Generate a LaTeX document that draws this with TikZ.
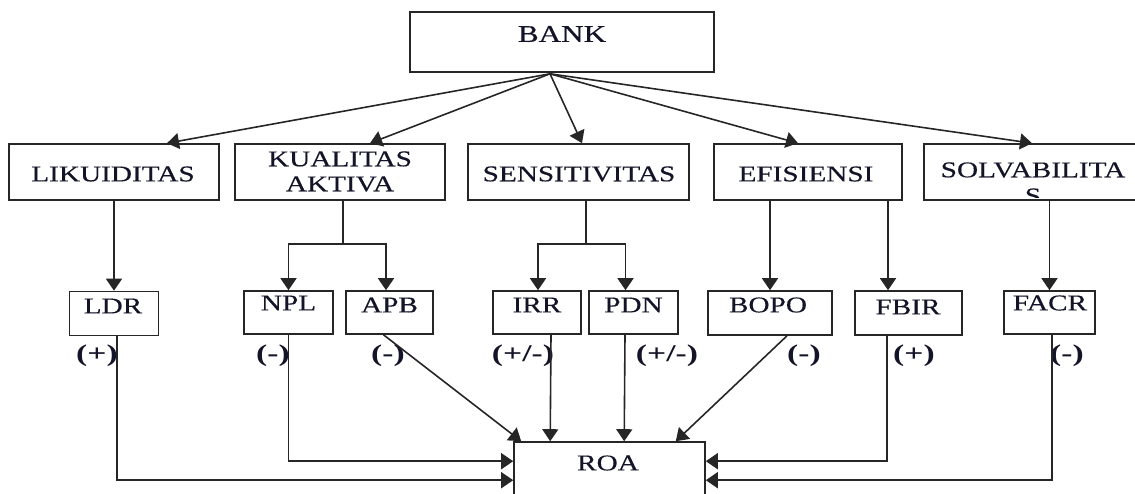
\documentclass[tikz,border=0pt]{standalone}
\usepackage{fontspec}
\setmainfont[FakeStretch=1.3,FakeBold=0.4]{Liberation Serif}
\newfontfamily\lblfont[FakeStretch=1.4]{Liberation Serif}
\usetikzlibrary{arrows.meta,calc}
\definecolor{linec}{RGB}{38,38,38}
\definecolor{txtc}{RGB}{20,20,40}
\tikzset{
  box/.style={draw=linec, line width=1.6pt, inner sep=0pt, fill=none},
  txt/.style={inner sep=0pt, text=txtc, align=center, font=\fontsize{22.5}{25}\selectfont},
  lbl/.style={inner sep=0pt, text=txtc, font=\lblfont\bfseries\fontsize{24}{26}\selectfont},
  conn/.style={draw=linec, line width=1.6pt},
  arr/.style={conn, -{Triangle[length=12pt,width=16pt]}}
}
\begin{document}
\begin{tikzpicture}[x=1pt,y=-1pt]
\useasboundingbox (0,0) rectangle (1135,493);
\clip (0,0) rectangle (1135,493);
% boxes
\node[box, minimum width=304pt, minimum height=60pt] (bank) at (562,42) {};
\node[box, minimum width=210pt, minimum height=56pt] (lik) at (114,172) {};
\node[box, minimum width=210pt, minimum height=56pt] (kua) at (340,172) {};
\node[box, minimum width=221pt, minimum height=56pt] (sen) at (578.5,172) {};
\node[box, minimum width=188pt, minimum height=56pt] (efi) at (808,172) {};
\node[box, minimum width=222pt, minimum height=56pt] (sol) at (1035,172) {};
\node[box, minimum width=89pt, minimum height=44pt] (ldr) at (114,313.5) {};
\node[box, minimum width=89pt, minimum height=43pt] (npl) at (288.5,312.5) {};
\node[box, minimum width=87pt, minimum height=43pt] (apb) at (389.5,312.5) {};
\node[box, minimum width=88pt, minimum height=43pt] (irr) at (537,312.5) {};
\node[box, minimum width=89pt, minimum height=43pt] (pdn) at (633.5,312.5) {};
\node[box, minimum width=124pt, minimum height=44pt] (bopo) at (770,313) {};
\node[box, minimum width=107pt, minimum height=44pt] (fbir) at (908.5,313) {};
\node[box, minimum width=91pt, minimum height=43pt] (facr) at (1049.5,312.5) {};
\node[box, minimum width=191pt, minimum height=78pt] (roa) at (609.5,481) {};
% texts
\node[txt, font=\fontsize{24}{26}\selectfont] (bankT) at (562,34) {BANK};
\node[txt] (likT) at (113,174) {LIKUIDITAS};
\node[txt] (kuaT) at (340,171.5) {KUALITAS\\AKTIVA};
\node[txt] (senT) at (579,174) {SENSITIVITAS};
\node[txt] (efiT) at (806,174) {EFISIENSI};
\node[txt] (solT) at (1033,170) {SOLVABILITA};
\begin{scope}
\clip (924,144) rectangle (1135,197);
\node[txt] (solS) at (1033,196) {S};
\end{scope}
\node[txt] (ldrT) at (113,306) {LDR};
\node[txt] (nplT) at (288.5,303) {NPL};
\node[txt] (apbT) at (389.5,305) {APB};
\node[txt] (irrT) at (537,305) {IRR};
\node[txt] (pdnT) at (633.5,305) {PDN};
\node[txt] (bopoT) at (768,305) {BOPO};
\node[txt] (fbirT) at (908,307) {FBIR};
\node[txt] (facrT) at (1050,303) {FACR};
\node[txt] (roaT) at (608,463) {ROA};
% labels
\node[lbl] (s1) at (97,356) {(+)};
\node[lbl] (s2) at (273,356) {(-)};
\node[lbl] (s3) at (388,356) {(-)};
\node[lbl] (s4) at (523,356) {(+/-)};
\node[lbl] (s5) at (667,356) {(+/-)};
\node[lbl] (s6) at (804,356) {(-)};
\node[lbl] (s7) at (914,356) {(+)};
\node[lbl] (s8) at (1067,356) {(-)};
% BANK fan-out
\coordinate (bs) at ($(bank.south)+(-12,1)$);
\draw[arr] (bs) -- ($(lik.north)+(53,0)$);
\draw[arr] (bs) -- ($(kua.north)+(30,0)$);
\draw[arr] (bs) -- ($(sen.north)+(3.5,0)$);
\draw[arr] (bs) -- ($(efi.north)+(-10,0)$);
\draw[arr] (bs) -- ($(sol.north)+(-3,0)$);
% second row to ratios
\draw[arr] (lik.south) -- (lik.south |- ldr.north);
\coordinate (kj) at ($(kua.south)+(3,43)$);
\draw[conn] ($(kua.south)+(3,0)$) -- (kj);
\draw[arr] (kj) -| (npl.north);
\draw[arr] (kj) -| ($(apb.north)+(-3.5,0)$);
\coordinate (sj) at ($(sen.south)+(7.5,43)$);
\draw[conn] ($(sen.south)+(7.5,0)$) -- (sj);
\draw[arr] (sj) -| ($(irr.north)+(1,0)$);
\draw[arr] (sj) -| ($(pdn.north)+(-8,0)$);
\draw[arr] (efi.south -| bopo.north) -- (bopo.north);
\coordinate (fbIn) at ($(fbir.north)+(-20.5,0)$);
\draw[arr] (efi.south -| fbIn) -- (fbIn);
\draw[arr] (sol.south -| facr.north) -- (facr.north);
% ratios to ROA
\draw[arr] ($(ldr.south)+(3,0)$) |- ($(roa.north west)+(0,39)$);
\draw[arr] (npl.south) |- ($(roa.north west)+(0,20)$);
\draw[arr] ($(apb.south)+(-6,0)$) -- ($(roa.north west)+(8,0)$);
\draw[arr] ($(irr.south)+(14,0)$) -- ($(roa.north west)+(37,0)$);
\draw[arr] ($(pdn.south)+(-8.5,0)$) -- ($(roa.north west)+(111,0)$);
\draw[arr] ($(bopo.south)+(17,0)$) -- ($(roa.north east)+(-30,0)$);
\draw[arr] ($(fbir.south)+(-21.5,0)$) |- ($(roa.north east)+(0,20)$);
\draw[arr] ($(facr.south)+(2.5,0)$) |- ($(roa.north east)+(0,39)$);
\end{tikzpicture}
\end{document}
